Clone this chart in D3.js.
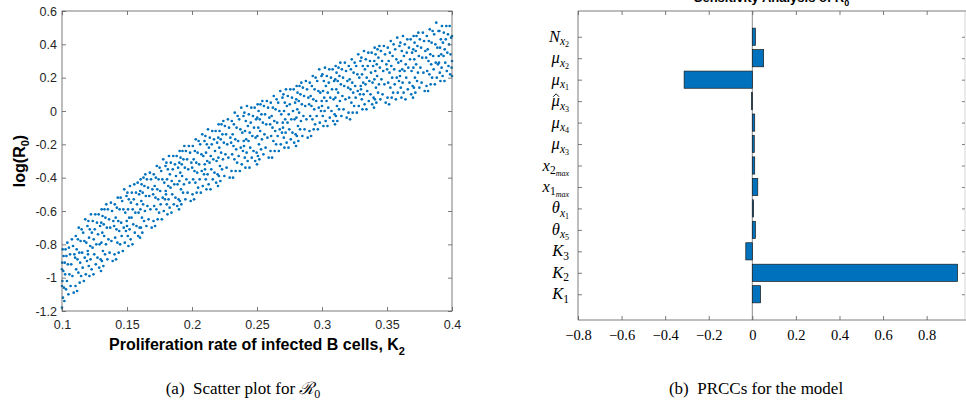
<!DOCTYPE html>
<html><head><meta charset="utf-8">
<script src="https://cdn.jsdelivr.net/npm/d3@7"></script>
<style>body{margin:0;background:#fff}svg{display:block}</style>
</head><body>
<svg id="c" width="966" height="401"></svg>
<script>
// ---------- Panel (a): scatter of log(R0) vs K2 ----------
const scatterPoints = [
[0.1000,-1.18],[0.1002,-0.91],[0.1003,-1.02],[0.1005,-0.83],[0.1007,-1.12],[0.1010,-0.96],[0.1012,-0.87],[0.1015,-1.06],[0.1018,-1.14],[0.1021,-0.91],[0.1024,-0.98],[0.1027,-0.83],[0.1031,-1.07],[0.1034,-0.87],[0.1038,-1.02],[0.1041,-0.79],[0.1045,-0.92],[0.1049,-1.10],[0.1053,-0.82],[0.1057,-0.98],[0.1062,-0.86],[0.1066,-1.05],[0.1071,-0.92],[0.1076,-0.77],[0.1080,-0.99],[0.1085,-0.81],[0.1090,-1.09],[0.1095,-0.86],[0.1000,-1.05],[0.1000,-0.95],
[0.1101,-0.88],[0.1104,-1.05],[0.1106,-0.75],[0.1109,-0.95],[0.1113,-0.83],[0.1116,-1.08],[0.1119,-0.89],[0.1122,-0.77],[0.1126,-0.97],[0.1129,-0.70],[0.1133,-0.85],[0.1136,-1.03],[0.1140,-0.91],[0.1143,-0.78],[0.1147,-0.99],[0.1151,-0.71],[0.1155,-0.85],[0.1159,-0.94],[0.1163,-0.73],[0.1168,-1.02],[0.1172,-0.78],[0.1175,-0.88],[0.1179,-0.65],[0.1183,-0.98],[0.1187,-0.79],[0.1192,-0.90],[0.1196,-0.69],[0.1198,-0.84],
[0.1200,-0.86],[0.1203,-0.66],[0.1206,-0.93],[0.1208,-0.76],[0.1211,-0.99],[0.1214,-0.71],[0.1217,-0.81],[0.1220,-0.89],[0.1223,-0.62],[0.1228,-0.95],[0.1230,-0.73],[0.1235,-0.82],[0.1237,-0.66],[0.1242,-0.98],[0.1244,-0.77],[0.1248,-0.86],[0.1252,-0.71],[0.1256,-0.62],[0.1260,-0.92],[0.1264,-0.80],[0.1269,-0.67],[0.1273,-0.88],[0.1277,-0.74],[0.1282,-0.62],[0.1286,-0.94],[0.1289,-0.80],[0.1293,-0.69],[0.1297,-0.89],
[0.1300,-0.96],[0.1302,-0.67],[0.1303,-0.79],[0.1305,-0.59],[0.1307,-0.90],[0.1310,-0.73],[0.1312,-0.63],[0.1315,-0.84],[0.1318,-0.93],[0.1321,-0.68],[0.1324,-0.75],[0.1327,-0.59],[0.1331,-0.86],[0.1334,-0.64],[0.1338,-0.80],[0.1341,-0.56],[0.1345,-0.70],[0.1349,-0.89],[0.1353,-0.59],[0.1357,-0.77],[0.1362,-0.65],[0.1366,-0.85],[0.1371,-0.70],[0.1376,-0.55],[0.1380,-0.78],[0.1385,-0.60],[0.1390,-0.90],[0.1395,-0.66],
[0.1401,-0.69],[0.1404,-0.86],[0.1406,-0.56],[0.1409,-0.76],[0.1413,-0.64],[0.1416,-0.89],[0.1419,-0.71],[0.1422,-0.58],[0.1426,-0.79],[0.1429,-0.52],[0.1433,-0.66],[0.1436,-0.85],[0.1440,-0.72],[0.1443,-0.59],[0.1447,-0.80],[0.1451,-0.52],[0.1455,-0.67],[0.1459,-0.75],[0.1463,-0.54],[0.1468,-0.84],[0.1472,-0.59],[0.1475,-0.70],[0.1479,-0.47],[0.1483,-0.79],[0.1487,-0.61],[0.1492,-0.72],[0.1496,-0.51],[0.1498,-0.66],
[0.1500,-0.69],[0.1503,-0.49],[0.1506,-0.75],[0.1508,-0.59],[0.1511,-0.81],[0.1514,-0.53],[0.1517,-0.64],[0.1520,-0.71],[0.1523,-0.45],[0.1528,-0.77],[0.1530,-0.55],[0.1535,-0.64],[0.1537,-0.49],[0.1542,-0.80],[0.1544,-0.59],[0.1548,-0.68],[0.1552,-0.53],[0.1556,-0.44],[0.1560,-0.73],[0.1564,-0.61],[0.1569,-0.49],[0.1573,-0.69],[0.1577,-0.56],[0.1582,-0.43],[0.1586,-0.75],[0.1589,-0.61],[0.1593,-0.50],[0.1597,-0.70],
[0.1600,-0.76],[0.1602,-0.48],[0.1603,-0.59],[0.1605,-0.41],[0.1607,-0.70],[0.1610,-0.54],[0.1612,-0.44],[0.1615,-0.64],[0.1618,-0.73],[0.1621,-0.49],[0.1624,-0.56],[0.1627,-0.40],[0.1631,-0.66],[0.1634,-0.45],[0.1638,-0.60],[0.1641,-0.38],[0.1645,-0.51],[0.1649,-0.69],[0.1653,-0.41],[0.1657,-0.57],[0.1662,-0.46],[0.1666,-0.65],[0.1671,-0.51],[0.1676,-0.37],[0.1680,-0.59],[0.1685,-0.41],[0.1690,-0.70],[0.1695,-0.47],
[0.1701,-0.50],[0.1704,-0.66],[0.1706,-0.38],[0.1709,-0.57],[0.1713,-0.45],[0.1716,-0.69],[0.1719,-0.52],[0.1722,-0.40],[0.1726,-0.59],[0.1729,-0.33],[0.1733,-0.47],[0.1736,-0.65],[0.1740,-0.53],[0.1743,-0.41],[0.1747,-0.61],[0.1751,-0.34],[0.1755,-0.48],[0.1759,-0.56],[0.1763,-0.36],[0.1768,-0.65],[0.1772,-0.41],[0.1775,-0.52],[0.1779,-0.29],[0.1783,-0.60],[0.1787,-0.43],[0.1792,-0.53],[0.1796,-0.33],[0.1798,-0.48],
[0.1800,-0.50],[0.1803,-0.31],[0.1806,-0.56],[0.1808,-0.41],[0.1811,-0.62],[0.1814,-0.35],[0.1817,-0.45],[0.1820,-0.53],[0.1823,-0.27],[0.1828,-0.58],[0.1830,-0.38],[0.1835,-0.46],[0.1837,-0.31],[0.1842,-0.61],[0.1844,-0.42],[0.1848,-0.50],[0.1852,-0.35],[0.1856,-0.27],[0.1860,-0.56],[0.1864,-0.44],[0.1869,-0.32],[0.1873,-0.52],[0.1877,-0.39],[0.1882,-0.27],[0.1886,-0.57],[0.1889,-0.44],[0.1893,-0.34],[0.1897,-0.53],
[0.1900,-0.59],[0.1902,-0.31],[0.1903,-0.42],[0.1905,-0.24],[0.1907,-0.54],[0.1910,-0.37],[0.1912,-0.28],[0.1915,-0.47],[0.1918,-0.56],[0.1921,-0.32],[0.1924,-0.39],[0.1927,-0.24],[0.1931,-0.49],[0.1934,-0.29],[0.1938,-0.44],[0.1941,-0.21],[0.1945,-0.34],[0.1949,-0.53],[0.1953,-0.24],[0.1957,-0.41],[0.1962,-0.29],[0.1966,-0.49],[0.1971,-0.35],[0.1976,-0.21],[0.1980,-0.43],[0.1985,-0.25],[0.1990,-0.54],[0.1995,-0.31],
[0.2001,-0.34],[0.2004,-0.50],[0.2006,-0.21],[0.2009,-0.41],[0.2013,-0.29],[0.2016,-0.53],[0.2019,-0.36],[0.2022,-0.24],[0.2026,-0.43],[0.2029,-0.17],[0.2033,-0.31],[0.2036,-0.49],[0.2040,-0.37],[0.2043,-0.25],[0.2047,-0.46],[0.2051,-0.18],[0.2055,-0.32],[0.2059,-0.41],[0.2063,-0.20],[0.2068,-0.49],[0.2072,-0.26],[0.2075,-0.36],[0.2079,-0.14],[0.2083,-0.45],[0.2087,-0.27],[0.2092,-0.38],[0.2096,-0.18],[0.2098,-0.32],
[0.2100,-0.35],[0.2103,-0.15],[0.2106,-0.41],[0.2108,-0.25],[0.2111,-0.47],[0.2114,-0.20],[0.2117,-0.30],[0.2120,-0.38],[0.2123,-0.11],[0.2128,-0.44],[0.2130,-0.22],[0.2135,-0.31],[0.2137,-0.16],[0.2142,-0.47],[0.2144,-0.27],[0.2148,-0.35],[0.2152,-0.20],[0.2156,-0.12],[0.2160,-0.41],[0.2164,-0.29],[0.2169,-0.17],[0.2173,-0.37],[0.2177,-0.24],[0.2182,-0.12],[0.2186,-0.43],[0.2189,-0.30],[0.2193,-0.19],[0.2197,-0.38],
[0.2200,-0.45],[0.2202,-0.16],[0.2203,-0.28],[0.2205,-0.08],[0.2207,-0.39],[0.2210,-0.22],[0.2212,-0.12],[0.2215,-0.33],[0.2218,-0.42],[0.2221,-0.17],[0.2224,-0.25],[0.2227,-0.08],[0.2231,-0.35],[0.2234,-0.14],[0.2238,-0.29],[0.2241,-0.06],[0.2245,-0.19],[0.2249,-0.39],[0.2253,-0.09],[0.2257,-0.26],[0.2262,-0.14],[0.2266,-0.34],[0.2271,-0.20],[0.2276,-0.05],[0.2280,-0.28],[0.2285,-0.10],[0.2290,-0.40],[0.2295,-0.16],
[0.2301,-0.19],[0.2304,-0.36],[0.2306,-0.06],[0.2309,-0.26],[0.2313,-0.14],[0.2316,-0.40],[0.2319,-0.21],[0.2322,-0.08],[0.2326,-0.29],[0.2329,-0.01],[0.2333,-0.17],[0.2336,-0.36],[0.2340,-0.23],[0.2343,-0.10],[0.2347,-0.31],[0.2351,-0.03],[0.2355,-0.18],[0.2359,-0.27],[0.2363,-0.05],[0.2368,-0.36],[0.2372,-0.11],[0.2375,-0.22],[0.2379,0.02],[0.2383,-0.32],[0.2387,-0.13],[0.2392,-0.24],[0.2396,-0.03],[0.2398,-0.18],
[0.2400,-0.21],[0.2403,-0.01],[0.2406,-0.28],[0.2408,-0.12],[0.2411,-0.34],[0.2414,-0.06],[0.2417,-0.17],[0.2420,-0.25],[0.2423,0.03],[0.2428,-0.30],[0.2430,-0.09],[0.2435,-0.18],[0.2437,-0.02],[0.2442,-0.34],[0.2444,-0.13],[0.2448,-0.22],[0.2452,-0.07],[0.2456,0.02],[0.2460,-0.28],[0.2464,-0.15],[0.2469,-0.03],[0.2473,-0.24],[0.2477,-0.10],[0.2482,0.02],[0.2486,-0.30],[0.2489,-0.16],[0.2493,-0.05],[0.2497,-0.25],
[0.2500,-0.32],[0.2502,-0.04],[0.2503,-0.15],[0.2505,0.04],[0.2507,-0.27],[0.2510,-0.10],[0.2512,0.00],[0.2515,-0.20],[0.2518,-0.29],[0.2521,-0.05],[0.2524,-0.12],[0.2527,0.04],[0.2531,-0.23],[0.2534,-0.02],[0.2538,-0.17],[0.2541,0.06],[0.2545,-0.07],[0.2549,-0.26],[0.2553,0.03],[0.2557,-0.14],[0.2562,-0.02],[0.2566,-0.22],[0.2571,-0.08],[0.2576,0.06],[0.2580,-0.16],[0.2585,0.02],[0.2590,-0.28],[0.2595,-0.04],
[0.2601,-0.08],[0.2604,-0.24],[0.2606,0.05],[0.2609,-0.15],[0.2613,-0.03],[0.2616,-0.28],[0.2619,-0.10],[0.2622,0.02],[0.2626,-0.18],[0.2629,0.09],[0.2633,-0.06],[0.2636,-0.24],[0.2640,-0.12],[0.2643,0.01],[0.2647,-0.20],[0.2651,0.07],[0.2655,-0.07],[0.2659,-0.15],[0.2663,0.05],[0.2668,-0.24],[0.2672,0.00],[0.2675,-0.11],[0.2679,0.12],[0.2683,-0.20],[0.2687,-0.02],[0.2692,-0.13],[0.2696,0.08],[0.2698,-0.07],
[0.2700,-0.10],[0.2703,0.10],[0.2706,-0.16],[0.2708,0.00],[0.2711,-0.22],[0.2714,0.05],[0.2717,-0.05],[0.2720,-0.13],[0.2723,0.13],[0.2728,-0.19],[0.2730,0.03],[0.2735,-0.07],[0.2737,0.09],[0.2742,-0.22],[0.2744,-0.02],[0.2748,-0.11],[0.2752,0.04],[0.2756,0.13],[0.2760,-0.17],[0.2764,-0.05],[0.2769,0.08],[0.2773,-0.13],[0.2777,0.00],[0.2782,0.13],[0.2786,-0.19],[0.2789,-0.05],[0.2793,0.05],[0.2797,-0.14],
[0.2800,-0.21],[0.2802,0.07],[0.2803,-0.04],[0.2805,0.15],[0.2807,-0.15],[0.2810,0.01],[0.2812,0.11],[0.2815,-0.09],[0.2818,-0.18],[0.2821,0.06],[0.2824,-0.01],[0.2827,0.15],[0.2831,-0.11],[0.2834,0.10],[0.2838,-0.06],[0.2841,0.17],[0.2845,0.04],[0.2849,-0.15],[0.2853,0.14],[0.2857,-0.03],[0.2862,0.09],[0.2866,-0.11],[0.2871,0.03],[0.2876,0.18],[0.2880,-0.05],[0.2885,0.13],[0.2890,-0.16],[0.2895,0.08],
[0.2901,0.04],[0.2904,-0.12],[0.2906,0.17],[0.2909,-0.03],[0.2913,0.09],[0.2916,-0.15],[0.2919,0.03],[0.2922,0.15],[0.2926,-0.05],[0.2929,0.21],[0.2933,0.07],[0.2936,-0.11],[0.2940,0.01],[0.2943,0.13],[0.2947,-0.08],[0.2951,0.20],[0.2955,0.06],[0.2959,-0.03],[0.2963,0.18],[0.2968,-0.11],[0.2972,0.12],[0.2975,0.02],[0.2979,0.25],[0.2983,-0.07],[0.2987,0.11],[0.2992,0.00],[0.2996,0.21],[0.2998,0.06],
[0.3000,0.03],[0.3003,0.22],[0.3006,-0.03],[0.3008,0.12],[0.3011,-0.09],[0.3014,0.18],[0.3017,0.08],[0.3020,0.00],[0.3023,0.26],[0.3028,-0.06],[0.3030,0.15],[0.3035,0.06],[0.3037,0.21],[0.3042,-0.09],[0.3044,0.11],[0.3048,0.02],[0.3052,0.17],[0.3056,0.25],[0.3060,-0.04],[0.3064,0.08],[0.3069,0.20],[0.3073,0.00],[0.3077,0.13],[0.3082,0.25],[0.3086,-0.06],[0.3089,0.07],[0.3093,0.18],[0.3097,-0.02],
[0.3100,-0.08],[0.3102,0.19],[0.3103,0.08],[0.3105,0.27],[0.3107,-0.03],[0.3110,0.13],[0.3112,0.23],[0.3115,0.03],[0.3118,-0.06],[0.3121,0.18],[0.3124,0.11],[0.3127,0.26],[0.3131,0.01],[0.3134,0.21],[0.3138,0.06],[0.3141,0.29],[0.3145,0.16],[0.3149,-0.03],[0.3153,0.25],[0.3157,0.09],[0.3162,0.20],[0.3166,0.01],[0.3171,0.15],[0.3176,0.29],[0.3180,0.07],[0.3185,0.24],[0.3190,-0.04],[0.3195,0.18],
[0.3201,0.14],[0.3204,-0.01],[0.3206,0.27],[0.3209,0.08],[0.3213,0.19],[0.3216,-0.05],[0.3219,0.13],[0.3222,0.25],[0.3226,0.05],[0.3229,0.31],[0.3233,0.17],[0.3236,-0.01],[0.3240,0.11],[0.3243,0.23],[0.3247,0.03],[0.3251,0.29],[0.3255,0.15],[0.3259,0.08],[0.3263,0.27],[0.3268,-0.01],[0.3272,0.22],[0.3275,0.12],[0.3279,0.34],[0.3283,0.03],[0.3287,0.20],[0.3292,0.10],[0.3296,0.30],[0.3298,0.15],
[0.3300,0.13],[0.3303,0.32],[0.3306,0.07],[0.3308,0.22],[0.3311,0.01],[0.3314,0.27],[0.3317,0.17],[0.3320,0.10],[0.3323,0.36],[0.3328,0.04],[0.3330,0.25],[0.3335,0.16],[0.3337,0.31],[0.3342,0.01],[0.3344,0.20],[0.3348,0.12],[0.3352,0.27],[0.3356,0.35],[0.3360,0.06],[0.3364,0.18],[0.3369,0.30],[0.3373,0.10],[0.3377,0.23],[0.3382,0.35],[0.3386,0.04],[0.3389,0.17],[0.3393,0.27],[0.3397,0.08],
[0.3400,0.02],[0.3402,0.30],[0.3403,0.19],[0.3405,0.38],[0.3407,0.07],[0.3410,0.24],[0.3412,0.34],[0.3415,0.14],[0.3418,0.05],[0.3421,0.28],[0.3424,0.21],[0.3427,0.37],[0.3431,0.11],[0.3434,0.32],[0.3438,0.16],[0.3441,0.39],[0.3445,0.26],[0.3449,0.07],[0.3453,0.36],[0.3457,0.19],[0.3462,0.30],[0.3466,0.10],[0.3471,0.24],[0.3476,0.39],[0.3480,0.16],[0.3485,0.34],[0.3490,0.05],[0.3495,0.28],
[0.3501,0.25],[0.3504,0.08],[0.3506,0.38],[0.3509,0.17],[0.3513,0.30],[0.3516,0.04],[0.3519,0.23],[0.3522,0.35],[0.3526,0.14],[0.3529,0.42],[0.3533,0.27],[0.3536,0.08],[0.3540,0.20],[0.3543,0.33],[0.3547,0.11],[0.3551,0.40],[0.3555,0.25],[0.3559,0.16],[0.3563,0.37],[0.3568,0.07],[0.3572,0.31],[0.3575,0.20],[0.3579,0.44],[0.3583,0.11],[0.3587,0.29],[0.3592,0.18],[0.3596,0.39],[0.3598,0.24],
[0.3600,0.21],[0.3603,0.41],[0.3606,0.14],[0.3608,0.30],[0.3611,0.08],[0.3614,0.36],[0.3617,0.25],[0.3620,0.17],[0.3623,0.45],[0.3628,0.11],[0.3630,0.33],[0.3635,0.24],[0.3637,0.40],[0.3642,0.07],[0.3644,0.28],[0.3648,0.20],[0.3652,0.35],[0.3656,0.43],[0.3660,0.13],[0.3664,0.26],[0.3669,0.38],[0.3673,0.17],[0.3677,0.31],[0.3682,0.43],[0.3686,0.10],[0.3689,0.24],[0.3693,0.35],[0.3697,0.15],
[0.3700,0.08],[0.3702,0.37],[0.3703,0.26],[0.3705,0.45],[0.3707,0.14],[0.3710,0.31],[0.3712,0.41],[0.3715,0.20],[0.3718,0.11],[0.3721,0.36],[0.3724,0.28],[0.3727,0.45],[0.3731,0.18],[0.3734,0.39],[0.3738,0.23],[0.3741,0.47],[0.3745,0.33],[0.3749,0.14],[0.3753,0.43],[0.3757,0.26],[0.3762,0.38],[0.3766,0.17],[0.3771,0.32],[0.3776,0.47],[0.3780,0.23],[0.3785,0.42],[0.3790,0.12],[0.3795,0.36],
[0.3801,0.32],[0.3804,0.15],[0.3806,0.45],[0.3809,0.24],[0.3813,0.37],[0.3816,0.12],[0.3819,0.30],[0.3822,0.42],[0.3826,0.22],[0.3829,0.49],[0.3833,0.34],[0.3836,0.16],[0.3840,0.28],[0.3843,0.41],[0.3847,0.20],[0.3851,0.48],[0.3855,0.33],[0.3859,0.25],[0.3863,0.46],[0.3868,0.16],[0.3872,0.40],[0.3875,0.29],[0.3879,0.53],[0.3883,0.20],[0.3887,0.38],[0.3892,0.28],[0.3896,0.48],[0.3898,0.33],
[0.3900,0.29],[0.3903,0.48],[0.3906,0.23],[0.3908,0.38],[0.3911,0.18],[0.3914,0.43],[0.3917,0.34],[0.3920,0.26],[0.3923,0.51],[0.3928,0.21],[0.3930,0.41],[0.3935,0.33],[0.3937,0.47],[0.3942,0.18],[0.3944,0.37],[0.3948,0.29],[0.3952,0.43],[0.3956,0.51],[0.3960,0.24],[0.3964,0.35],[0.3969,0.46],[0.3973,0.27],[0.3977,0.40],[0.3982,0.51],[0.3986,0.22],[0.3989,0.34],[0.3993,0.44],[0.3997,0.26],[0.4000,0.21],[0.4000,0.45],[0.4000,0.30]
];
const scatterXTicks = [0.1,0.15,0.2,0.25,0.3,0.35,0.4];
const scatterXTickLabels = ["0.1","0.15","0.2","0.25","0.3","0.35","0.4"];
const scatterYTicks = [0.6,0.4,0.2,0,-0.2,-0.4,-0.6,-0.8,-1,-1.2];
const scatterYTickLabels = ["0.6","0.4","0.2","0","-0.2","-0.4","-0.6","-0.8","-1","-1.2"];

// ---------- Panel (b): PRCC bars (top to bottom) ----------
const prccParams = [
  [["N",0],["x",1],["2",2]],
  [["μ",0],["x",1],["2",2]],
  [["μ",0],["x",1],["1",2]],
  [["μ\u0302",0],["x",1],["3",2]],
  [["μ",0],["x",1],["4",2]],
  [["μ",0],["x",1],["3",2]],
  [["x",0],["2",1],["max",2]],
  [["x",0],["1",1],["max",2]],
  [["θ",0],["x",1],["1",2]],
  [["θ",0],["x",1],["5",2]],
  [["K",0],["3",1]],
  [["K",0],["2",1]],
  [["K",0],["1",1]]
];
const prccValues = [0.014,0.052,-0.313,-0.004,0.011,0.009,0.011,0.025,0.006,0.014,-0.030,0.942,0.038];
const prccXTicks = [-0.8,-0.6,-0.4,-0.2,0,0.2,0.4,0.6,0.8];

const svg = d3.select("#c");
const axisColor = "#5a5a5a", textColor = "#262626", dotColor = "#0072BD";
const sansF = "'Liberation Sans', Arial, Helvetica, sans-serif";
const serifF = "'Liberation Serif', 'Times New Roman', serif";

function styleAxis(g, fontFamily, fontSize, color){
  g.select(".domain").remove();
  g.selectAll(".tick line").attr("stroke", axisColor).attr("stroke-width", 0.8);
  g.selectAll(".tick text").attr("font-family", fontFamily).attr("font-size", fontSize).attr("fill", color);
}

// ===== Panel (a) =====
const xA = d3.scaleLinear().domain([0.1,0.4]).range([62,452]);
const yA = d3.scaleLinear().domain([-1.2,0.6]).range([311,11]);
const gA = svg.append("g");

gA.append("g").selectAll("circle").data(scatterPoints).join("circle")
  .attr("cx", d => xA(d[0])).attr("cy", d => yA(d[1])).attr("r", 1.35)
  .attr("fill", dotColor);

gA.append("g").attr("transform","translate(0,311)")
  .call(d3.axisBottom(xA).tickValues(scatterXTicks).tickSize(-4).tickPadding(9)
    .tickFormat((d,i)=>scatterXTickLabels[i]))
  .call(g=>styleAxis(g,sansF,12.5,textColor));
gA.append("g").attr("transform","translate(0,11)")
  .call(d3.axisTop(xA).tickValues(scatterXTicks).tickSize(-4).tickFormat(""))
  .call(g=>styleAxis(g,sansF,12.5,textColor));
gA.append("g").attr("transform","translate(62,0)")
  .call(d3.axisLeft(yA).tickValues(scatterYTicks).tickSize(-4).tickPadding(5)
    .tickFormat((d,i)=>scatterYTickLabels[i]))
  .call(g=>styleAxis(g,sansF,12.5,textColor));
gA.append("g").attr("transform","translate(452,0)")
  .call(d3.axisRight(yA).tickValues(scatterYTicks).tickSize(-4).tickFormat(""))
  .call(g=>styleAxis(g,sansF,12.5,textColor));
gA.append("rect").attr("x",xA(0.1)).attr("y",yA(0.6))
  .attr("width",xA(0.4)-xA(0.1)).attr("height",yA(-1.2)-yA(0.6))
  .attr("fill","none").attr("stroke",axisColor).attr("stroke-width",0.8);

const xl = gA.append("text").attr("x",(xA(0.1)+xA(0.4))/2).attr("y",350)
  .attr("text-anchor","middle").attr("font-family",sansF).attr("font-weight","bold")
  .attr("font-size",16).attr("fill","#000");
xl.append("tspan").text("Proliferation rate of infected B cells, K");
xl.append("tspan").attr("font-size",11).attr("dy",5).text("2");

const yl = gA.append("text").attr("transform",`translate(25,${(yA(-1.2)+yA(0.6))/2}) rotate(-90)`)
  .attr("text-anchor","middle").attr("font-family",sansF).attr("font-weight","bold")
  .attr("font-size",16).attr("fill","#000");
yl.append("tspan").text("log(R");
yl.append("tspan").attr("font-size",11).attr("dy",4).text("0");
yl.append("tspan").attr("dy",-4).text(")");

const capA = svg.append("text").attr("x",243).attr("y",394).attr("text-anchor","middle")
  .attr("font-family",serifF).attr("font-size",17).attr("fill","#000");
capA.append("tspan").text("(a)\u00a0\u00a0Scatter plot for ");
capA.append("tspan").attr("font-family","'DejaVu Serif', serif").attr("font-style","italic").text("\u211B");
capA.append("tspan").attr("font-size",12).attr("dy",4).text("0");

// ===== Panel (b) =====
const xB = d3.scaleLinear().domain([-0.8,0.976]).range([578,965]);
const yB = d3.scaleLinear().domain([-0.2,14.2]).range([320,11]);
const gB = svg.append("g");
const n = prccParams.length;
const pos = i => n - i;

const t = gB.append("text").attr("x",(xB(-0.8)+xB(0.976))/2).attr("y",2)
  .attr("text-anchor","middle").attr("font-family",sansF).attr("font-weight","bold")
  .attr("font-size",13).attr("fill","#000");
t.append("tspan").text("Sensitivity Analysis of R");
t.append("tspan").attr("font-size",9).attr("dy",4).text("0");

gB.append("line").attr("x1",xB(0)).attr("x2",xB(0)).attr("y1",yB(14.2)).attr("y2",yB(-0.2))
  .attr("stroke","#808080").attr("stroke-width",0.9);

gB.append("g").selectAll("rect").data(prccValues).join("rect")
  .attr("x",d=>xB(Math.min(0,d)))
  .attr("width",d=>Math.max(0.8,Math.abs(xB(d)-xB(0))))
  .attr("y",(d,i)=>yB(pos(i)+0.4))
  .attr("height",(d,i)=>yB(pos(i)-0.4)-yB(pos(i)+0.4))
  .attr("fill",dotColor).attr("stroke","#1a1a1a").attr("stroke-width",0.7);

const fmtMinus = d => d===0 ? "0" : (d<0 ? "\u2212"+Math.abs(d).toFixed(1) : d.toFixed(1));
gB.append("g").attr("transform","translate(0,320)")
  .call(d3.axisBottom(xB).tickValues(prccXTicks).tickSize(-4).tickPadding(10).tickFormat(fmtMinus))
  .call(g=>styleAxis(g,serifF,14.5,"#000"));
gB.append("g").attr("transform","translate(0,11)")
  .call(d3.axisTop(xB).tickValues(prccXTicks).tickSize(-4).tickFormat(""))
  .call(g=>styleAxis(g,serifF,14,"#000"));
const posList = prccValues.map((d,i)=>pos(i));
gB.append("g").attr("transform","translate(578,0)")
  .call(d3.axisLeft(yB).tickValues(posList).tickSize(-4).tickFormat(""))
  .call(g=>styleAxis(g,serifF,14,"#000"));
gB.append("g").attr("transform","translate(965,0)")
  .call(d3.axisRight(yB).tickValues(posList).tickSize(-3).tickFormat(""))
  .call(g=>styleAxis(g,serifF,14,"#000"));
gB.append("line").attr("x1",578).attr("x2",966).attr("y1",yB(-0.2)).attr("y2",yB(-0.2)).attr("stroke",axisColor).attr("stroke-width",0.8);
gB.append("line").attr("x1",578).attr("x2",966).attr("y1",yB(14.2)).attr("y2",yB(14.2)).attr("stroke",axisColor).attr("stroke-width",0.8);
gB.append("line").attr("x1",578).attr("x2",578).attr("y1",yB(14.2)).attr("y2",yB(-0.2)).attr("stroke",axisColor).attr("stroke-width",0.8);
gB.append("line").attr("x1",965).attr("x2",965).attr("y1",yB(14.2)).attr("y2",yB(-0.2)).attr("stroke","#bbb").attr("stroke-width",0.6);

// math-style category labels
const sizes = [16.5, 11.5, 8], shifts = [0, 3.5, 2];
prccParams.forEach((parts,i)=>{
  const baseY = yB(pos(i))+5;
  const tx = gB.append("text").attr("x",569).attr("y",baseY)
    .attr("text-anchor","end").attr("font-family",serifF).attr("fill","#000");
  let hat = false;
  parts.forEach(([s,lvl])=>{
    if (s.includes("\u0302")) { hat = true; s = s.replace("\u0302",""); }
    const isDigit = /^[0-9]$/.test(s);
    tx.append("tspan").attr("font-size",sizes[lvl]).attr("dy",shifts[lvl])
      .attr("font-style", isDigit ? "normal" : "italic").text(s);
  });
  if (hat) {
    const bb = tx.node().getBBox();
    const hx = bb.x + 5.5, hy = baseY - 11.5;
    gB.append("path").attr("d",`M${hx-3},${hy+2.2} L${hx},${hy-0.8} L${hx+3},${hy+2.2}`)
      .attr("fill","none").attr("stroke","#000").attr("stroke-width",0.9);
  }
});

svg.append("text").attr("x",756).attr("y",394).attr("text-anchor","middle")
  .attr("font-family",serifF).attr("font-size",17).attr("fill","#000")
  .text("(b)\u00a0\u00a0PRCCs for the model");
</script>
</body></html>
